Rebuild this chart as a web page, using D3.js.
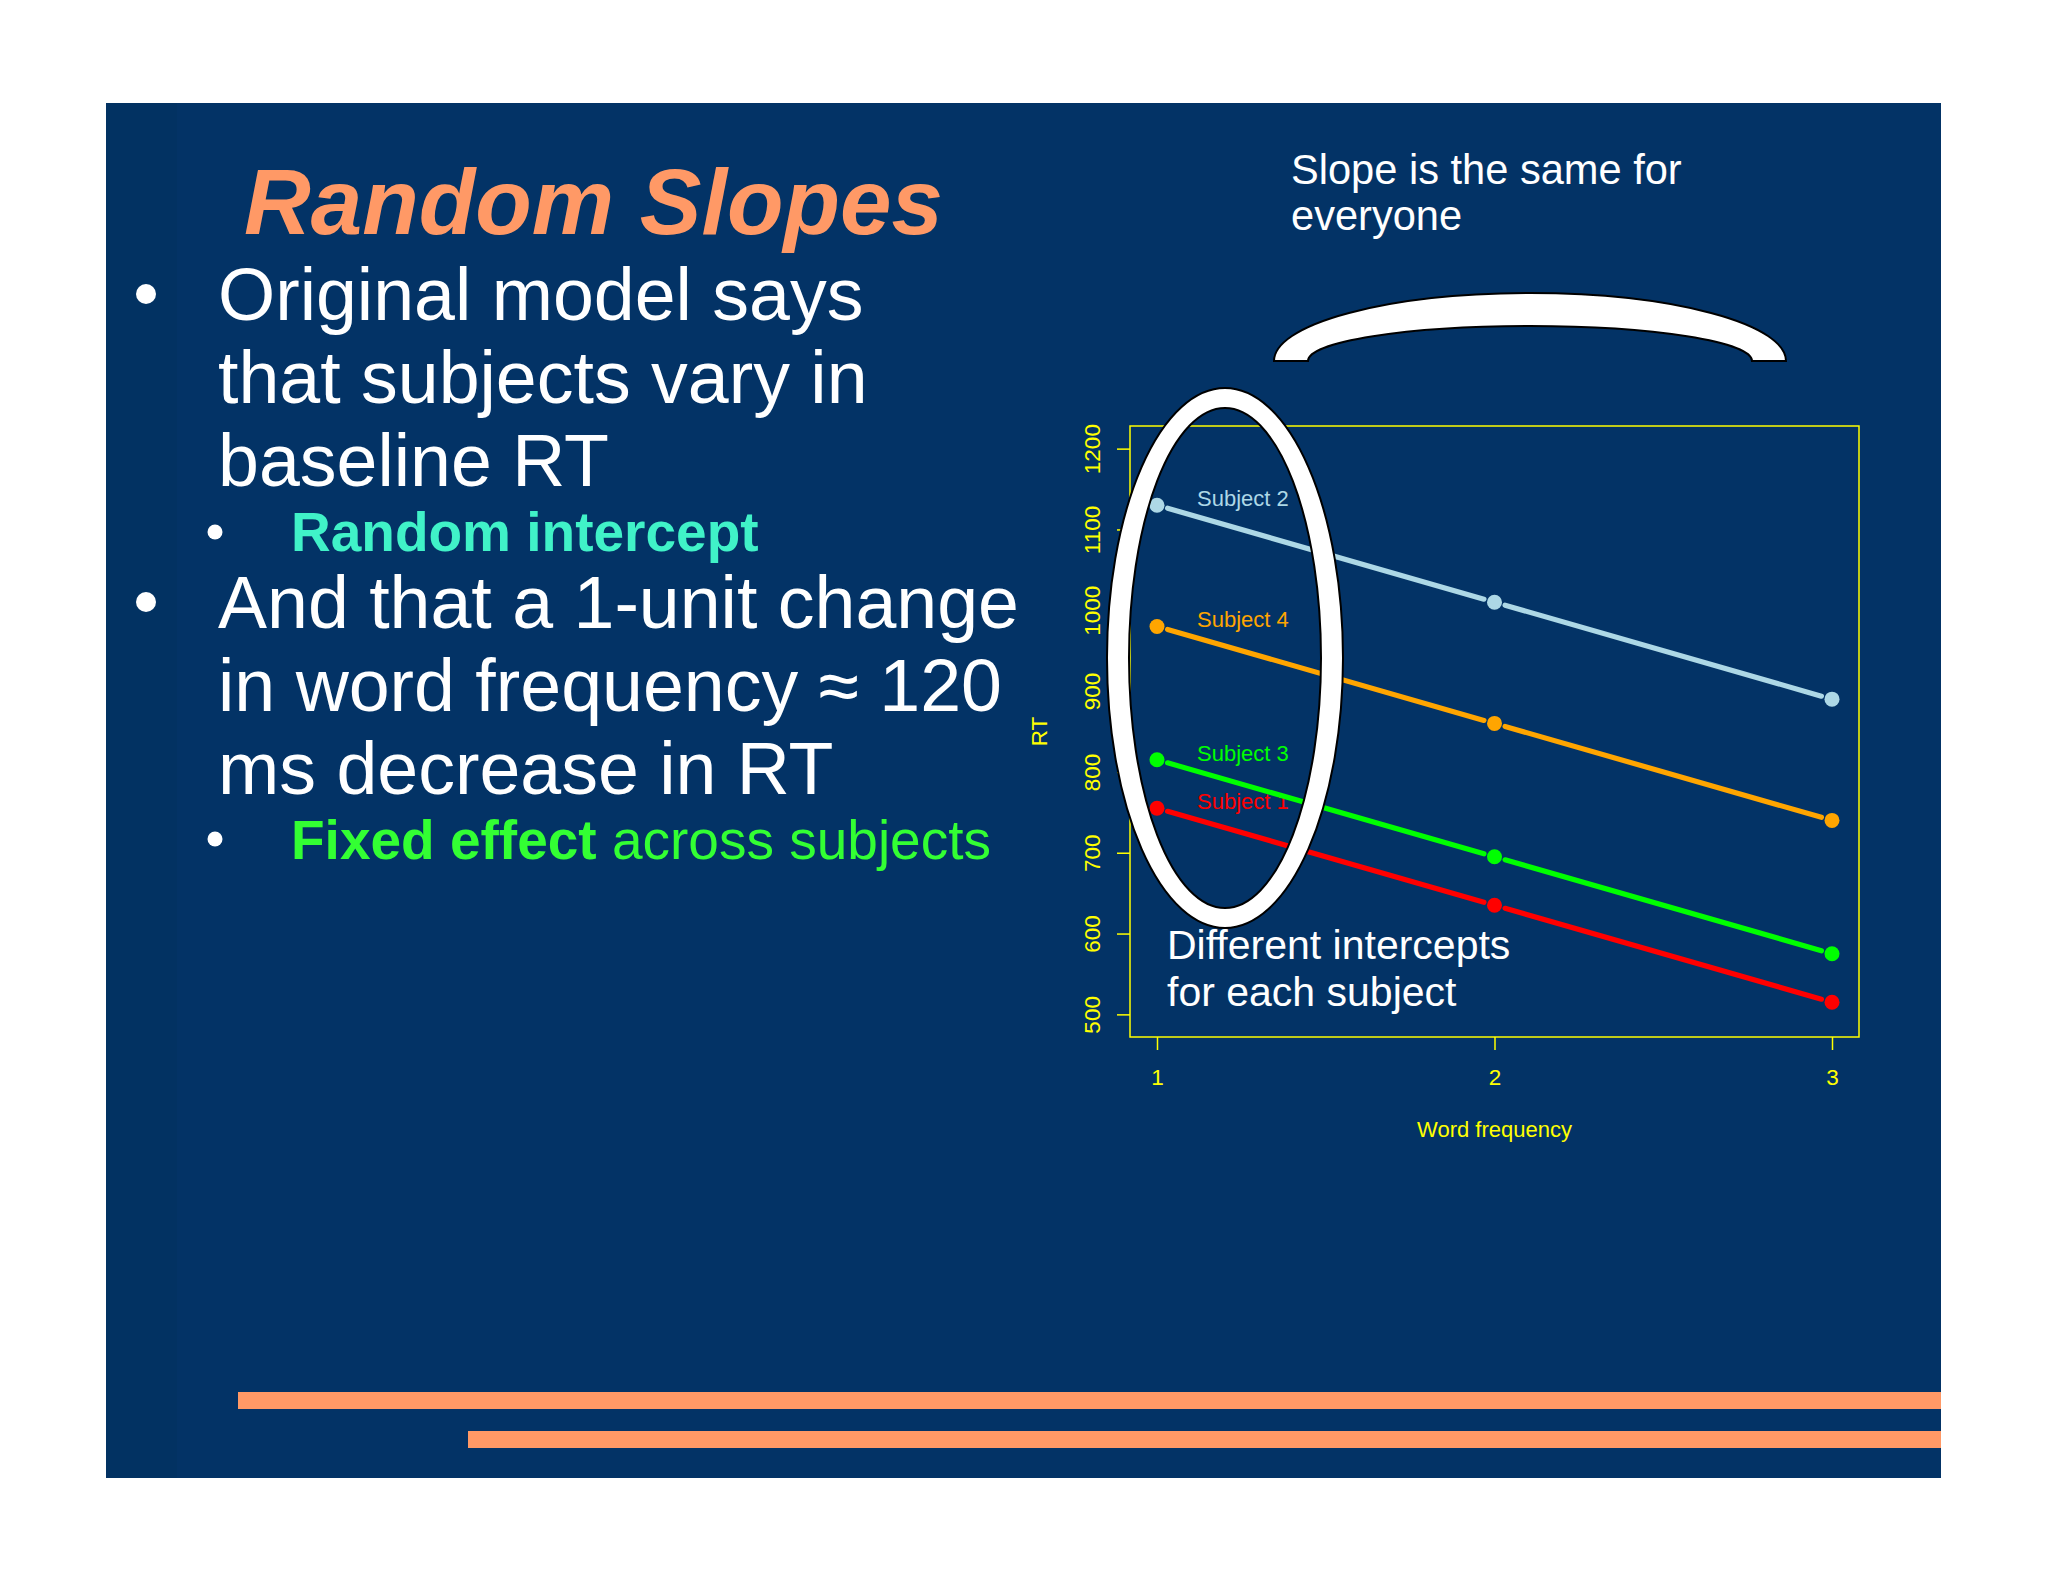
<!DOCTYPE html>
<meta charset="utf-8">
<script src="https://d3js.org/d3.v7.min.js"></script>
<head>
  <style>
  body {
    margin: 0;
    background: #ffffff;
    font-family: "Liberation Sans", Arial, Helvetica, sans-serif;
  }
  </style>
</head>
<html><body>
<div id="slide"></div>

<script>

// word frequency levels and RT per subject
const freq = [1, 2, 3];
const subjects = ["Subject 1", "Subject 2", "Subject 3", "Subject 4"];
const rtSubject1 = [755, 635, 515];
const rtSubject2 = [1130, 1010, 890];
const rtSubject3 = [815, 695, 575];
const rtSubject4 = [980, 860, 740];
const subjectColors = ["#ff0000", "#add8e6", "#00ff00", "#ffa500"];
const yTicks = [500, 600, 700, 800, 900, 1000, 1100, 1200];
const xTicks = [1, 2, 3];

const series = subjects.map(function(s, i) {
  const vals = [rtSubject1, rtSubject2, rtSubject3, rtSubject4][i];
  return { name: s, color: subjectColors[i], values: freq.map(function(f, j) { return { f: f, rt: vals[j] }; }) };
});

const W = 2048, H = 1582;
const yellow = "#ffff00";

const svg = d3.select("#slide")
  .append("svg")
    .attr("width", W)
    .attr("height", H);

// slide background
svg.append("rect")
  .attr("x", 106).attr("y", 103)
  .attr("width", 1835).attr("height", 1375)
  .attr("fill", "#033366");
svg.append("rect")
  .attr("x", 106).attr("y", 103)
  .attr("width", 71).attr("height", 1375)
  .attr("fill", "#023262");

// orange stripes at the bottom
svg.append("rect").attr("x", 238).attr("y", 1392).attr("width", 1703).attr("height", 17).attr("fill", "#ff9966");
svg.append("rect").attr("x", 468).attr("y", 1431).attr("width", 1473).attr("height", 17).attr("fill", "#ff9966");

// title
svg.append("text")
  .attr("x", 244).attr("y", 234)
  .attr("font-size", 92.5)
  .attr("font-weight", "bold")
  .attr("font-style", "italic")
  .attr("fill", "#ff9966")
  .text("Random Slopes");

// bullet text
const bulletLines = [
  ["Original model says", 320],
  ["that subjects vary in", 403],
  ["baseline RT", 486],
  ["And that a 1-unit change", 628],
  ["in word frequency \u2248 120", 711],
  ["ms decrease in RT", 794]
];
bulletLines.forEach(function(d) {
  svg.append("text")
    .attr("x", 218).attr("y", d[1])
    .attr("font-size", 73.5)
    .attr("fill", "#ffffff")
    .text(d[0]);
});
svg.append("circle").attr("cx", 146).attr("cy", 294).attr("r", 10).attr("fill", "#ffffff");
svg.append("circle").attr("cx", 146).attr("cy", 602).attr("r", 10).attr("fill", "#ffffff");
svg.append("circle").attr("cx", 215).attr("cy", 532).attr("r", 7.5).attr("fill", "#ffffff");
svg.append("circle").attr("cx", 215).attr("cy", 839).attr("r", 7.5).attr("fill", "#ffffff");

svg.append("text")
  .attr("x", 291).attr("y", 551)
  .attr("font-size", 55)
  .attr("font-weight", "bold")
  .attr("fill", "#40f2c8")
  .text("Random intercept");

const fixed = svg.append("text")
  .attr("x", 291).attr("y", 859)
  .attr("font-size", 55)
  .attr("fill", "#33ff33");
fixed.append("tspan").attr("font-weight", "bold").text("Fixed effect");
fixed.append("tspan").text(" across subjects");

// annotation top right
svg.append("text").attr("x", 1291).attr("y", 184).attr("font-size", 41.6).attr("fill", "#ffffff").text("Slope is the same for");
svg.append("text").attr("x", 1291).attr("y", 230).attr("font-size", 41.6).attr("fill", "#ffffff").text("everyone");

// ---- the R plot ----
const box = {left: 1130, right: 1859, top: 426, bottom: 1037};

const x = d3.scaleLinear()
  .domain([0.92, 3.08])
  .range([box.left, box.right]);
const y = d3.scaleLinear()
  .domain([472, 1228])
  .range([box.bottom, box.top]);

svg.append("rect")
  .attr("x", box.left).attr("y", box.top)
  .attr("width", box.right - box.left).attr("height", box.bottom - box.top)
  .attr("fill", "none")
  .attr("stroke", yellow)
  .attr("stroke-width", 1.5);

const yAxis = svg.append("g")
  .attr("transform", `translate(${box.left}, 0)`)
  .call(d3.axisLeft(y).tickValues(yTicks).tickSize(13).tickFormat(d3.format("d")));
yAxis.select(".domain").remove();
yAxis.selectAll("line").attr("stroke", yellow).attr("stroke-width", 1.5);
yAxis.selectAll("text")
  .attr("x", null).attr("dy", null)
  .attr("transform", "translate(-30,0) rotate(-90)")
  .attr("text-anchor", "middle")
  .attr("fill", yellow)
  .attr("font-size", 22.5)
  .attr("font-family", "Liberation Sans, Arial, sans-serif");

const xAxis = svg.append("g")
  .attr("transform", `translate(0, ${box.bottom})`)
  .call(d3.axisBottom(x).tickValues(xTicks).tickSize(13).tickFormat(d3.format("d")));
xAxis.select(".domain").remove();
xAxis.selectAll("line").attr("stroke", yellow).attr("stroke-width", 1.5);
xAxis.selectAll("text")
  .attr("y", 48).attr("dy", null)
  .attr("fill", yellow)
  .attr("font-size", 22.5)
  .attr("font-family", "Liberation Sans, Arial, sans-serif");

svg.append("text")
  .attr("transform", `translate(1047, ${(box.top + box.bottom) / 2}) rotate(-90)`)
  .attr("text-anchor", "middle")
  .attr("font-size", 22.5)
  .attr("fill", yellow)
  .text("RT");
svg.append("text")
  .attr("x", x(2)).attr("y", 1137)
  .attr("text-anchor", "middle")
  .attr("font-size", 22)
  .attr("fill", yellow)
  .text("Word frequency");

// lines with gaps around the points (type = "b")
const gap = 11;
series.forEach(function(s) {
  const g = svg.append("g");
  d3.pairs(s.values).forEach(function(p) {
    const x0 = x(p[0].f), y0 = y(p[0].rt), x1 = x(p[1].f), y1 = y(p[1].rt);
    const len = Math.hypot(x1 - x0, y1 - y0);
    const ux = (x1 - x0) / len, uy = (y1 - y0) / len;
    g.append("line")
      .attr("x1", x0 + ux * gap).attr("y1", y0 + uy * gap)
      .attr("x2", x1 - ux * gap).attr("y2", y1 - uy * gap)
      .attr("stroke", s.color)
      .attr("stroke-width", 5.2)
      .attr("stroke-linecap", "round");
  });
  g.selectAll("circle")
    .data(s.values)
    .join("circle")
      .attr("cx", function(d) { return x(d.f); })
      .attr("cy", function(d) { return y(d.rt); })
      .attr("r", 7.5)
      .attr("fill", s.color);
  g.append("text")
    .attr("x", x(s.values[0].f) + 40)
    .attr("y", y(s.values[0].rt) + 1)
    .attr("font-size", 22)
    .attr("fill", s.color)
    .text(s.name);
});

svg.append("text").attr("x", 1167).attr("y", 959).attr("font-size", 41).attr("fill", "#ffffff").text("Different intercepts");
svg.append("text").attr("x", 1167).attr("y", 1006).attr("font-size", 41).attr("fill", "#ffffff").text("for each subject");

// white ring around the intercepts
function ellipsePath(cx, cy, rx, ry) {
  return `M${cx - rx},${cy} A${rx},${ry} 0 1,0 ${cx + rx},${cy} A${rx},${ry} 0 1,0 ${cx - rx},${cy} Z`;
}
svg.append("path")
  .attr("d", ellipsePath(1225, 658, 118, 270) + ellipsePath(1225, 658, 96, 250))
  .attr("fill", "#ffffff")
  .attr("fill-rule", "evenodd")
  .attr("stroke", "#000000")
  .attr("stroke-width", 2);

// bracket arc over the plot
svg.append("path")
  .attr("d", "M1274,361 A256,68 0 0,1 1786,361 L1752,361 A222,35 0 0,0 1308,361 Z")
  .attr("fill", "#ffffff")
  .attr("stroke", "#000000")
  .attr("stroke-width", 2);

</script>
</body></html>
